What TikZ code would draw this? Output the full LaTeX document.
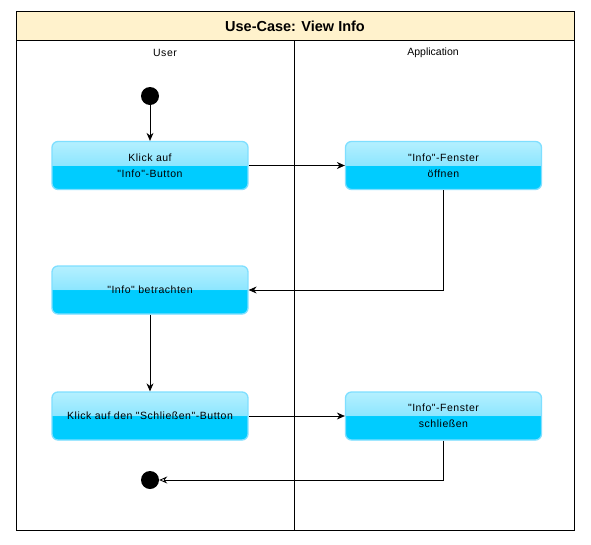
\documentclass[tikz,border=0pt]{standalone}
\usepackage{fontspec}
\setmainfont{Liberation Sans}
\newfontfamily\spaced[LetterSpace=5]{Liberation Sans}
\usetikzlibrary{arrows.meta}
\definecolor{glassfill}{HTML}{00CCFF}
\definecolor{glasstop}{HTML}{B5F0FF}
\definecolor{glassmid}{HTML}{8CE6FF}
\definecolor{glassline}{HTML}{7FDFFF}
\definecolor{titlefill}{HTML}{FFF2CC}
\pgfdeclareverticalshading{glass}{100bp}{color(0bp)=(glassfill); color(50bp)=(glassfill); color(50.01bp)=(glassmid); color(75bp)=(glasstop); color(100bp)=(glasstop)}
\tikzset{
  x=1pt, y=-1pt,
  actbox/.style={draw=glassline, line width=1.3pt, rounded corners=6pt, shading=glass, shading angle=0,
    minimum width=196pt, minimum height=48pt, inner sep=0pt, align=center,
    font=\spaced\fontsize{10.5}{16}\selectfont},
  dot/.style={circle, fill=black, minimum size=18pt, inner sep=0pt},
  flow/.style={draw=black, line width=0.8pt, -{Stealth[length=8pt,width=7pt]}},
  lanelabel/.style={font=\fontsize{10.5}{12}\selectfont},
}
\begin{document}
\begin{tikzpicture}
\useasboundingbox (0,0) rectangle (591,544);
% frame
\fill[white] (0,0) rectangle (591,544);
\draw[line width=0.9pt, fill=titlefill] (16,11.5) rectangle (574.5,40.5);
\draw[line width=0.9pt] (16,40.5) rectangle (574.5,530);
\draw[line width=0.9pt] (294,40.5) -- (294,530);
\node[font=\bfseries\fontsize{14.5}{16}\selectfont] (title) at (295,26) {Use-Case: View Info};
\node[lanelabel, font=\spaced\fontsize{10.5}{12}\selectfont] (user) at (165,53) {User};
\node[lanelabel] (app) at (433,53) {Application};
% nodes
\node[dot] (start) at (150,96) {};
\node[actbox] (b1) at (150,165.5) {Klick auf\\"Info"-Button};
\node[actbox] (b2) at (443.5,165.5) {"Info"-Fenster\\öffnen};
\node[actbox] (b3) at (150,290) {"Info" betrachten};
\node[actbox] (b4) at (150,416) {Klick auf den "Schließen"-Button};
\node[actbox] (b5) at (443.5,416) {"Info"-Fenster\\schließen};
\node[dot] (end) at (150,480) {};
% connectors
\draw[flow] (start) -- (b1);
\draw[flow] (b1) -- (b2);
\draw[flow] (b2.south) |- (b3.east);
\draw[flow] (b3) -- (b4);
\draw[flow] (b4) -- (b5);
\draw[draw=black, line width=0.8pt, -{Stealth[open,length=8pt,width=7pt]}] (b5.south) |- (end.east);
\end{tikzpicture}
\end{document}
